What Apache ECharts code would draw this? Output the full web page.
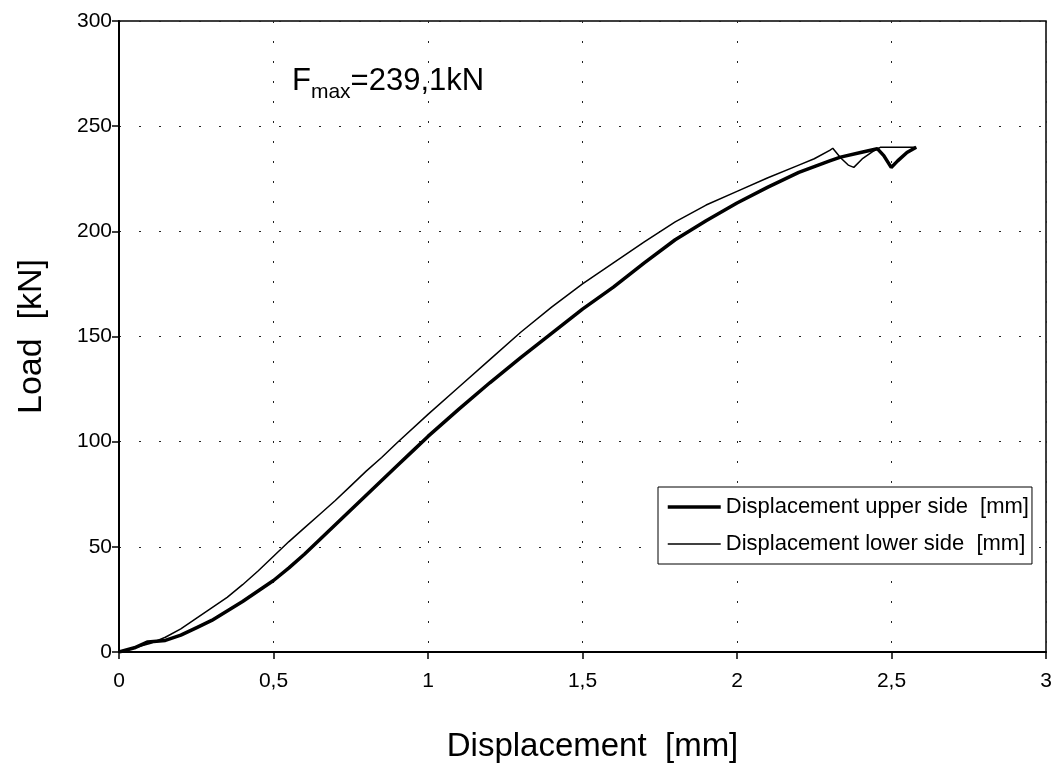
<!DOCTYPE html>
<html>
<head>
<meta charset="utf-8">
<script src="https://cdn.jsdelivr.net/npm/echarts@6/dist/echarts.min.js"></script>
<style>html,body{margin:0;padding:0;background:#fff}#c{width:1063px;height:764px}</style>
</head>
<body>
<div id="c"></div>
<script>
// Displacement upper side [mm] (thick line)
var upperX = [0,0.05,0.093,0.15,0.2,0.25,0.3,0.35,0.4,0.45,0.5,0.55,0.6,0.65,0.7,0.75,0.8,0.85,0.9,0.95,1.0,1.1,1.2,1.3,1.4,1.5,1.6,1.7,1.8,1.85,1.9,2.0,2.1,2.2,2.3,2.335,2.4,2.454,2.475,2.499,2.52,2.55,2.58];
var upperY = [0,2,4.8,5.5,8,11.5,15,19.5,24,29,34,40,46.5,53.5,60.5,67.5,74.5,81.5,88.5,95.5,102.5,115.5,128,140,151.5,163,173.5,185,196,200.5,205,213.5,221,228,233.5,235.3,237.5,239.3,236,230.4,233.5,237.5,240];
// Displacement lower side [mm] (thin line)
var lowerX = [0,0.05,0.1,0.15,0.2,0.25,0.3,0.35,0.4,0.45,0.5,0.55,0.6,0.65,0.7,0.75,0.8,0.85,0.9,1.0,1.1,1.2,1.3,1.4,1.5,1.6,1.7,1.8,1.9,2.0,2.1,2.2,2.25,2.3,2.31,2.335,2.36,2.378,2.405,2.44,2.465,2.52,2.58];
var lowerY = [0,2,4,7,11,16,21,26,32,38.5,45.5,52.5,59,65.5,72,79,86,92.5,99.5,113,126,139,152,164,175,185,195,204.5,212.5,219,225.5,231.5,234.5,238.5,239.5,235,231.5,230.4,234.4,238,240,240,240];
var seriesNames = ['Displacement upper side  [mm]', 'Displacement lower side  [mm]'];
var xTitle = 'Displacement  [mm]';
var yTitle = 'Load  [kN]';
var annotation = { main: 'F', sub: 'max', rest: '=239,1kN' };

function pairs(xs, ys) { return xs.map(function (x, i) { return [x, ys[i]]; }); }
var FONT = '"Liberation Sans", Arial, sans-serif';

var chart = echarts.init(document.getElementById('c'), null, { renderer: 'canvas' });
chart.setOption({
  backgroundColor: '#fff',
  animation: false,
  textStyle: { fontFamily: FONT, color: '#000' },
  grid: { left: 119, right: 17, top: 21, bottom: 112, show: true, borderColor: '#000', borderWidth: 1.5,
    backgroundColor: 'transparent', containLabel: false, outerBoundsMode: 'none' },
  xAxis: {
    type: 'value', min: 0, max: 3, interval: 0.5,
    name: xTitle, nameLocation: 'middle', nameGap: 78,
    nameTextStyle: { fontSize: 33, color: '#000', fontFamily: FONT, padding: [0, 0, 0, 20] },
    axisLine: { lineStyle: { color: '#000', width: 2 } },
    axisTick: { show: true, length: 7, lineStyle: { color: '#000', width: 1.5 } },
    axisLabel: { fontSize: 21, color: '#000', margin: 19, fontFamily: FONT,
      formatter: function (v) { return String(v).replace('.', ','); } },
    splitLine: { show: true, lineStyle: { color: '#222', width: 1, type: [2, 18] } }
  },
  yAxis: {
    type: 'value', min: 0, max: 300, interval: 50,
    name: yTitle, nameLocation: 'middle', nameGap: 70, nameRotate: 90,
    nameTextStyle: { fontSize: 34, color: '#000', fontFamily: FONT },
    axisLine: { show: true, lineStyle: { color: '#000', width: 2 } },
    axisTick: { show: true, length: 7, lineStyle: { color: '#000', width: 1.5 } },
    axisLabel: { fontSize: 21, color: '#000', margin: 7, fontFamily: FONT },
    splitLine: { show: true, lineStyle: { color: '#222', width: 1, type: [2, 18] } }
  },
  legend: {
    orient: 'vertical', left: 658, top: 487,
    backgroundColor: '#fff', borderColor: '#000', borderWidth: 1,
    padding: [9, 3, 9, 8], itemGap: 15, itemWidth: 53, itemHeight: 14,
    itemStyle: { opacity: 0, borderWidth: 0 },
    textStyle: { fontSize: 22, color: '#000', fontFamily: FONT },
    data: [
      { name: seriesNames[0], lineStyle: { width: 3.5, color: '#000' } },
      { name: seriesNames[1], lineStyle: { width: 1.5, color: '#000' } }
    ]
  },
  graphic: [{
    type: 'text', left: 292, top: 66, z: 100,
    style: {
      text: '{a|' + annotation.main + '}{b|' + annotation.sub + '}{a|' + annotation.rest + '}',
      rich: {
        a: { fontSize: 31, lineHeight: 38, fontFamily: FONT, fill: '#000', verticalAlign: 'bottom', padding: [0, 0, 6, 0] },
        b: { fontSize: 21, lineHeight: 22, fontFamily: FONT, fill: '#000', verticalAlign: 'bottom' }
      }
    }
  }],
  series: [
    { name: seriesNames[0], type: 'line', data: pairs(upperX, upperY), symbol: 'none', showSymbol: false,
      lineStyle: { color: '#000', width: 3.5 }, itemStyle: { color: '#000' }, z: 3 },
    { name: seriesNames[1], type: 'line', data: pairs(lowerX, lowerY), symbol: 'none', showSymbol: false,
      lineStyle: { color: '#000', width: 1.5 }, itemStyle: { color: '#000' }, z: 4 }
  ]
});
</script>
</body>
</html>
